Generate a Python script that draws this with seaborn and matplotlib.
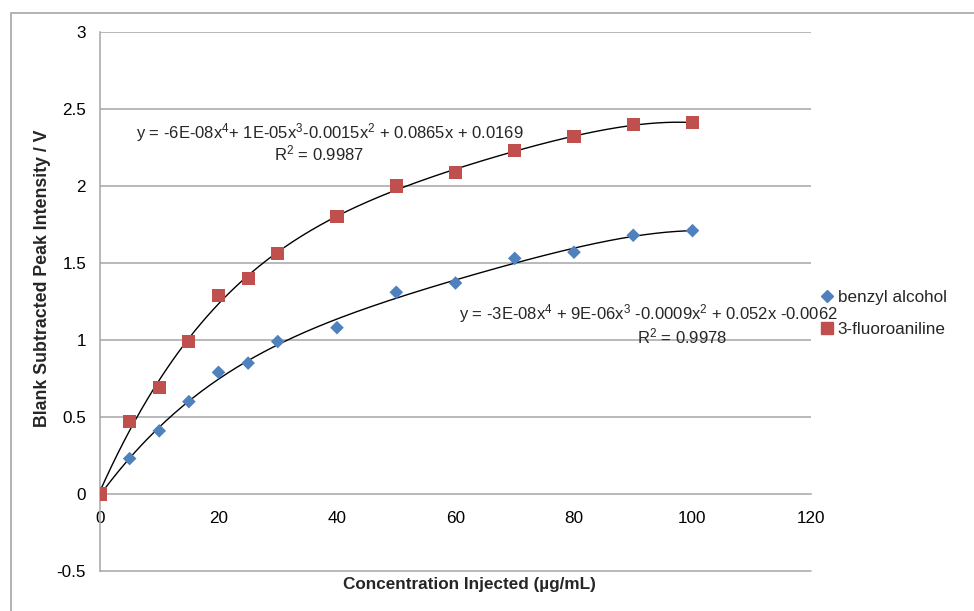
import numpy as np
import pandas as pd
import matplotlib
matplotlib.use("Agg")
import matplotlib.pyplot as plt
import seaborn as sns
from matplotlib.patches import Rectangle

# data
conc = [0, 5, 10, 15, 20, 25, 30, 40, 50, 60, 70, 80, 90, 100]
benzyl_alcohol = [0, 0.23, 0.41, 0.60, 0.79, 0.85, 0.99, 1.08, 1.31, 1.37, 1.53, 1.57, 1.68, 1.71]
fluoroaniline = [0, 0.47, 0.69, 0.99, 1.29, 1.40, 1.56, 1.80, 2.00, 2.09, 2.23, 2.32, 2.40, 2.41]
series_names = ["benzyl alcohol", "3-fluoroaniline"]
eq_benzyl = ["y = -3E-08x$^{4}$ + 9E-06x$^{3}$ -0.0009x$^{2}$ + 0.052x -0.0062", "R$^{2}$ = 0.9978"]
eq_fluoro = ["y = -6E-08x$^{4}$+ 1E-05x$^{3}$-0.0015x$^{2}$ + 0.0865x + 0.0169", "R$^{2}$ = 0.9987"]

df = pd.DataFrame({
    "conc": conc * 2,
    "intensity": benzyl_alcohol + fluoroaniline,
    "compound": [series_names[0]] * len(conc) + [series_names[1]] * len(conc),
})

sns.set_style("white")
plt.rcParams["font.family"] = ["Liberation Sans", "DejaVu Sans"]
plt.rcParams["mathtext.fontset"] = "custom"
plt.rcParams["mathtext.rm"] = "Liberation Sans"
plt.rcParams["mathtext.default"] = "regular"

fs = 12.3

fig = plt.figure(figsize=(9.74, 6.11), dpi=100)
ax = fig.add_axes([100 / 974, 1 - 571 / 611, 711 / 974, 539 / 611])

grid_col = "#A6A6A6"
for yv in np.arange(0.5, 3.01, 0.5):
    ax.axhline(yv, color=grid_col, lw=1.1, zorder=0)
ax.axhline(-0.5, color=grid_col, lw=1.1, zorder=0, clip_on=False)

# polynomial trendlines (order 4, like Excel)
xs = np.linspace(0, max(conc), 200)
for vals in (benzyl_alcohol, fluoroaniline):
    coef = np.polyfit(conc, vals, 4)
    ax.plot(xs, np.polyval(coef, xs), color="black", lw=1.0, zorder=3)

sns.scatterplot(data=df, x="conc", y="intensity", hue="compound", style="compound",
                palette={series_names[0]: "#4F81BD", series_names[1]: "#C0504D"},
                markers={series_names[0]: "D", series_names[1]: "s"},
                size="compound", sizes={series_names[0]: 48, series_names[1]: 88},
                linewidth=0, ax=ax, zorder=4, legend=False)

ax.set_xlim(0, 120)
ax.set_ylim(-0.5, 3)
ax.set_xticks(np.arange(0, 121, 20))
ax.set_yticks(np.arange(-0.5, 3.01, 0.5))
ax.set_yticklabels(["-0.5", "0", "0.5", "1", "1.5", "2", "2.5", "3"])
ax.spines["top"].set_visible(False)
ax.spines["right"].set_visible(False)
ax.spines["bottom"].set_position(("data", 0))
for s in ("left", "bottom"):
    ax.spines[s].set_color(grid_col)
    ax.spines[s].set_linewidth(1.1)
ax.tick_params(axis="both", length=0, labelsize=fs, colors="black")
ax.tick_params(axis="y", pad=10)
ax.tick_params(axis="x", pad=12)

ax.set_xlabel("Concentration Injected (µg/mL)", fontsize=fs, fontweight="bold")
ax.xaxis.set_label_coords(0.52, -0.011)
ax.set_ylabel("Blank Subtracted Peak Intensity / V", fontsize=12.8, fontweight="bold")
ax.yaxis.set_label_coords(-0.069, 0.544)

# trendline equations
eq_fs = 12.0
ax.text(0.3235, 0.8126, eq_fluoro[0], transform=ax.transAxes, ha="center", va="center", fontsize=eq_fs)
ax.text(0.308, 0.7755, eq_fluoro[1], transform=ax.transAxes, ha="center", va="center", fontsize=eq_fs)
ax.text(0.7707, 0.4768, eq_benzyl[0], transform=ax.transAxes, ha="center", va="center", fontsize=eq_fs)
ax.text(0.8186, 0.436, eq_benzyl[1], transform=ax.transAxes, ha="center", va="center", fontsize=eq_fs)

handles = [
    plt.Line2D([], [], ls="none", marker="D", ms=6.5, color="#4F81BD"),
    plt.Line2D([], [], ls="none", marker="s", ms=9, color="#C0504D"),
]
ax.legend(handles, series_names, loc="center left", bbox_to_anchor=(0.999, 0.477),
          frameon=False, fontsize=fs, handletextpad=0.0, handlelength=1.2,
          labelspacing=1.0, borderaxespad=0)

# outer chart border
fig.patches.append(Rectangle((10.5 / 974, -0.1), 2, 1 - 13 / 611 + 0.1, transform=fig.transFigure,
                             fill=False, edgecolor="#A6A6A6", lw=1.2))

fig.savefig("out.png", dpi=100)
